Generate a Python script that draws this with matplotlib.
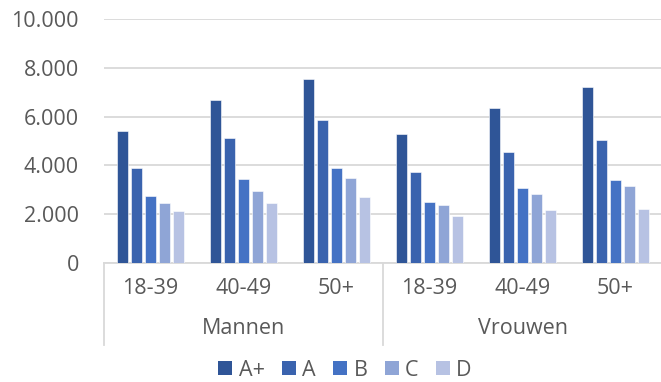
import matplotlib
matplotlib.use("Agg")
import matplotlib.pyplot as plt
from matplotlib.ticker import FuncFormatter
from matplotlib.lines import Line2D
from matplotlib.patches import Patch
import numpy as np

groups = ["Mannen", "Vrouwen"]
ages = ["18-39", "40-49", "50+"]
series = ["A+", "A", "B", "C", "D"]
values = {
    "A+": [5400, 6670, 7540, 5280, 6370, 7210],
    "A":  [3910, 5130, 5860, 3720, 4540, 5060],
    "B":  [2740, 3440, 3900, 2490, 3070, 3410],
    "C":  [2450, 2970, 3480, 2360, 2820, 3160],
    "D":  [2140, 2470, 2710, 1940, 2170, 2220],
}
colors = ["#2F5597", "#3A63AE", "#4472C4", "#8FA5D6", "#B7C2E3"]

plt.rcParams['font.family'] = ['Open Sans', 'DejaVu Sans']
txt = "#595959"
fs = 15.5

fig = plt.figure(figsize=(6.61, 3.82), dpi=100)
ax = fig.add_axes([104/661, 119/382, 558/661, 244/382])

n_cat = len(groups) * len(ages)
x = np.arange(n_cat)
bw = 0.118
pitch = 0.153
for i, s in enumerate(series):
    off = (i - 2) * pitch
    ax.bar(x + off, values[s], width=bw, color=colors[i], edgecolor="white",
           linewidth=0.4, zorder=3, label=s)

ax.set_xlim(-0.5, n_cat - 0.5)
ax.set_ylim(0, 10000)
ax.set_yticks(np.arange(0, 10001, 2000))
ax.yaxis.set_major_formatter(FuncFormatter(lambda v, p: f"{int(v):,}".replace(",", ".")))
ax.tick_params(axis="y", length=0, pad=18, labelsize=fs, labelcolor=txt)
ax.set_xticks([])
ax.grid(axis="y", color="#D9D9D9", linewidth=1.3, zorder=0)
for sp in ["top", "right", "left"]:
    ax.spines[sp].set_visible(False)
ax.spines["bottom"].set_color("#D9D9D9")
ax.spines["bottom"].set_linewidth(1.3)

trans = ax.get_xaxis_transform()
# category labels
for j in range(n_cat):
    ax.text(x[j], -0.105, ages[j % 3], transform=trans, ha="center", va="center",
            fontsize=fs, color=txt)
for g, name in enumerate(groups):
    ax.text(g * 3 + 1, -0.27, name, transform=trans, ha="center", va="center",
            fontsize=fs, color=txt)
for b in [-0.5, 2.5, 5.5]:
    ax.add_line(Line2D([b, b], [0, -0.336], transform=trans, color="#D9D9D9",
                       linewidth=1.3, clip_on=False))

handles = [Patch(facecolor=c, edgecolor="none") for c in colors]
fig.legend(handles, series, loc="center", bbox_to_anchor=(345/661, 1 - 370/382),
           ncol=5, frameon=False, fontsize=fs, labelcolor=txt,
           handlelength=0.65, handleheight=0.65, handletextpad=0.3, columnspacing=0.8)

fig.savefig("out.png", dpi=100)
